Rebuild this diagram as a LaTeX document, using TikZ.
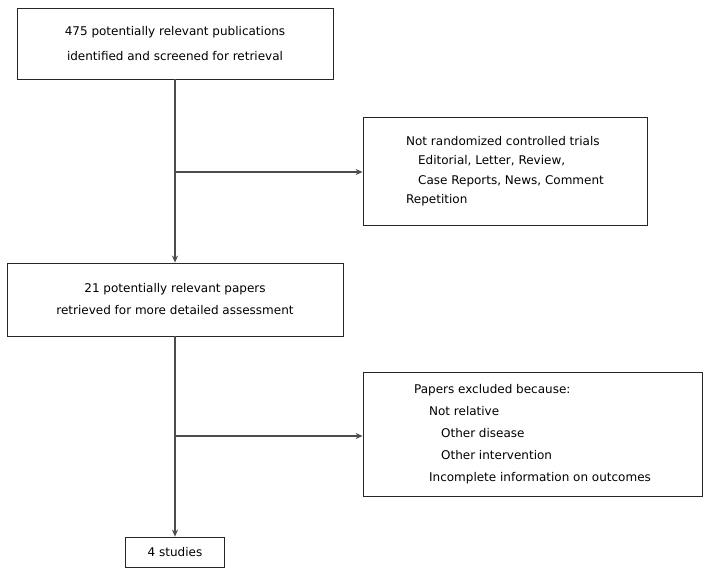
\documentclass[tikz,border=0pt]{standalone}
\usepackage{fontspec}
\setmainfont{DejaVu Sans}
\usetikzlibrary{arrows.meta}

\tikzset{
  box/.style={draw=black!85, line width=0.8pt, inner sep=0pt, align=center},
  flow/.style={draw=black!70, line width=1.2pt, -{Stealth[length=7pt,width=6pt]}}
}

\begin{document}
\begin{tikzpicture}[x=1pt, y=-1pt, font=\fontsize{12}{14}\selectfont]
\useasboundingbox (0,0) rectangle (709,574);

      \node[box, minimum width=316pt, minimum height=71pt,
            font=\fontsize{12}{25}\selectfont] (pub) at (175,43.5)
            {475 potentially relevant publications\\identified and screened for retrieval};
      \node[box, minimum width=284pt, minimum height=108pt, align=left,
            font=\fontsize{12}{19.5}\selectfont] (notrct) at (505,171)
            {Not randomized controlled trials\\
             \hspace*{12pt}Editorial, Letter, Review,\\
             \hspace*{12pt}Case Reports, News, Comment\\
             Repetition};
      \node[box, minimum width=336pt, minimum height=73pt,
            font=\fontsize{12}{22}\selectfont] (papers) at (175,299.5)
            {21 potentially relevant papers\\retrieved for more detailed assessment};
      \node[box, minimum width=339pt, minimum height=124pt, align=left,
            font=\fontsize{12}{22}\selectfont] (excl) at (532.5,434)
            {Papers excluded because:\\
             \hspace*{15pt}Not relative\\
             \hspace*{27pt}Other disease\\
             \hspace*{27pt}Other intervention\\
             \hspace*{15pt}Incomplete information on outcomes};
      \node[box, minimum width=99pt, minimum height=30pt] (studies) at (175,552) {4 studies};

      \coordinate (split1) at (175,172);
      \coordinate (split2) at (175,436);

 \draw[flow] (pub) -- (papers);
 \draw[flow] (split1) -- (split1 -| notrct.west);
 \draw[flow] (papers) -- (studies);
 \draw[flow] (split2) -- (split2 -| excl.west);

\end{tikzpicture}
\end{document}
